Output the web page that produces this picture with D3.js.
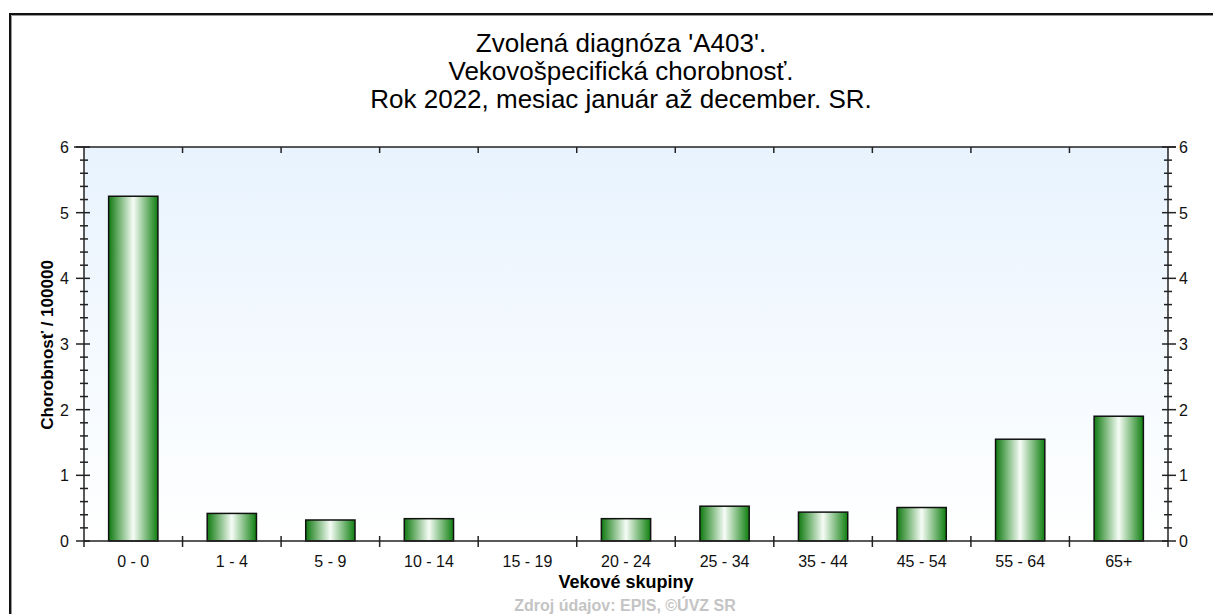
<!DOCTYPE html>
<html>
<head>
<meta charset="utf-8">
<script src="https://cdn.jsdelivr.net/npm/d3@7"></script>
<style>
  body { margin: 0; background: #fff; }
  svg { display: block; font-family: "Liberation Sans", Arial, sans-serif; }
</style>
</head>
<body>
<svg id="chart"></svg>
<script>
const categories = ['0 - 0', '1 - 4', '5 - 9', '10 - 14', '15 - 19', '20 - 24', '25 - 34', '35 - 44', '45 - 54', '55 - 64', '65+'];
const values = [5.25, 0.42, 0.32, 0.34, 0, 0.34, 0.53, 0.44, 0.51, 1.55, 1.90];
const yTicks = [0, 1, 2, 3, 4, 5, 6];
const titleLines = ["Zvolená diagnóza 'A403'.", 'Vekovošpecifická chorobnosť.', 'Rok 2022, mesiac január až december. SR.'];

const width = 1213, height = 614;
const margin = {top: 147, right: 45, bottom: 73, left: 84};
const plotW = width - margin.left - margin.right;
const plotH = height - margin.top - margin.bottom;

const svg = d3.select('#chart').attr('width', width).attr('height', height);
const defs = svg.append('defs');

const bg = defs.append('linearGradient').attr('id', 'bg').attr('x1', 0).attr('y1', 0).attr('x2', 0).attr('y2', 1);
bg.append('stop').attr('offset', '0%').attr('stop-color', '#e8f3fe');
bg.append('stop').attr('offset', '100%').attr('stop-color', '#ffffff');

const barGrad = defs.append('linearGradient').attr('id', 'bar').attr('x1', 0).attr('y1', 0).attr('x2', 1).attr('y2', 0);
barGrad.append('stop').attr('offset', '0%').attr('stop-color', '#0f7a0f');
barGrad.append('stop').attr('offset', '50%').attr('stop-color', '#f6fcf6');
barGrad.append('stop').attr('offset', '100%').attr('stop-color', '#0f7f0f');

// outer frame
svg.append('path').attr('d', `M10,${height + 5}V14H${width + 5}`)
  .attr('fill', 'none').attr('stroke', '#111').attr('stroke-width', 2);
svg.append('path').attr('d', `M11.5,${height + 5}V15.5H${width + 5}`)
  .attr('fill', 'none').attr('stroke', '#999').attr('stroke-width', 1);

// title
svg.append('g').selectAll('text').data(titleLines).enter().append('text')
  .attr('x', 621).attr('y', (d, i) => 52 + i * 28)
  .attr('text-anchor', 'middle').attr('font-size', 26).attr('fill', '#000')
  .text(d => d);

const x = d3.scaleBand().domain(categories).range([0, plotW]).paddingInner(0.5).paddingOuter(0.25);
const y = d3.scaleLinear().domain([0, 6]).range([plotH, 0]);

const g = svg.append('g').attr('transform', `translate(${margin.left},${margin.top})`);

g.append('rect').attr('width', plotW).attr('height', plotH).attr('fill', 'url(#bg)');

// bars
g.selectAll('rect.bar').data(values).enter().append('rect')
  .attr('class', 'bar')
  .attr('x', (d, i) => x(categories[i]))
  .attr('y', d => y(d))
  .attr('width', x.bandwidth())
  .attr('height', d => plotH - y(d))
  .attr('fill', 'url(#bar)')
  .attr('stroke', '#111').attr('stroke-width', 1.5)
  .attr('display', d => d > 0 ? null : 'none');

const step = plotW / categories.length;
const bounds = d3.range(1, categories.length).map(i => i * step);

// bottom axis
const xAxis = g.append('g').attr('transform', `translate(0,${plotH})`);
xAxis.append('line').attr('x1', 0).attr('x2', plotW).attr('stroke', '#222').attr('stroke-width', 1.5);
xAxis.selectAll('line.t').data(bounds).enter().append('line').attr('class', 't')
  .attr('x1', d => d).attr('x2', d => d).attr('y1', -5).attr('y2', 6)
  .attr('stroke', '#222').attr('stroke-width', 1.5);
xAxis.selectAll('text').data(categories).enter().append('text')
  .attr('x', d => x(d) + x.bandwidth() / 2).attr('y', 26)
  .attr('text-anchor', 'middle').attr('font-size', 16).attr('fill', '#111')
  .text(d => d);

// top axis
const topAxis = g.append('g');
topAxis.append('line').attr('x1', -10).attr('x2', plotW + 8).attr('stroke', '#222').attr('stroke-width', 1.5);
topAxis.selectAll('line.t').data(bounds).enter().append('line').attr('class', 't')
  .attr('x1', d => d).attr('x2', d => d).attr('y1', 0).attr('y2', 6)
  .attr('stroke', '#222').attr('stroke-width', 1.5);

// vertical axes
const minor = d3.range(0, 30).map(i => i * 0.2).filter(v => Math.abs(v - Math.round(v)) > 0.01);
function vAxis(xPos, side) {
  const a = g.append('g').attr('transform', `translate(${xPos},0)`);
  a.append('line').attr('y1', 0).attr('y2', plotH + 6).attr('stroke', '#222').attr('stroke-width', 1.5);
  a.selectAll('line.mj').data(yTicks).enter().append('line').attr('class', 'mj')
    .attr('y1', d => y(d)).attr('y2', d => y(d))
    .attr('x1', side < 0 ? -8 : -6).attr('x2', side < 0 ? 6 : 8)
    .attr('stroke', '#222').attr('stroke-width', 1.5);
  a.selectAll('line.mn').data(minor).enter().append('line').attr('class', 'mn')
    .attr('y1', d => y(d)).attr('y2', d => y(d))
    .attr('x1', -4).attr('x2', 4)
    .attr('stroke', '#222').attr('stroke-width', 1.5);
  a.selectAll('text').data(yTicks).enter().append('text')
    .attr('x', side < 0 ? -15 : 11).attr('y', d => y(d) + 6)
    .attr('text-anchor', side < 0 ? 'end' : 'start')
    .attr('font-size', 16).attr('fill', '#111')
    .text(d => d);
}
vAxis(0, -1);
vAxis(plotW, 1);

// axis titles
svg.append('text').attr('x', margin.left + plotW / 2).attr('y', 588)
  .attr('text-anchor', 'middle').attr('font-size', 18).attr('font-weight', 'bold').attr('fill', '#000')
  .text('Vekové skupiny');
svg.append('text').attr('transform', `translate(53,345) rotate(-90)`)
  .attr('text-anchor', 'middle').attr('font-size', 17).attr('font-weight', 'bold').attr('fill', '#000')
  .text('Chorobnosť / 100000');
svg.append('text').attr('x', 625).attr('y', 611)
  .attr('text-anchor', 'middle').attr('font-size', 16).attr('font-weight', 'bold').attr('fill', '#c4c4c4')
  .text('Zdroj údajov: EPIS, ©ÚVZ SR');
</script>
</body>
</html>
